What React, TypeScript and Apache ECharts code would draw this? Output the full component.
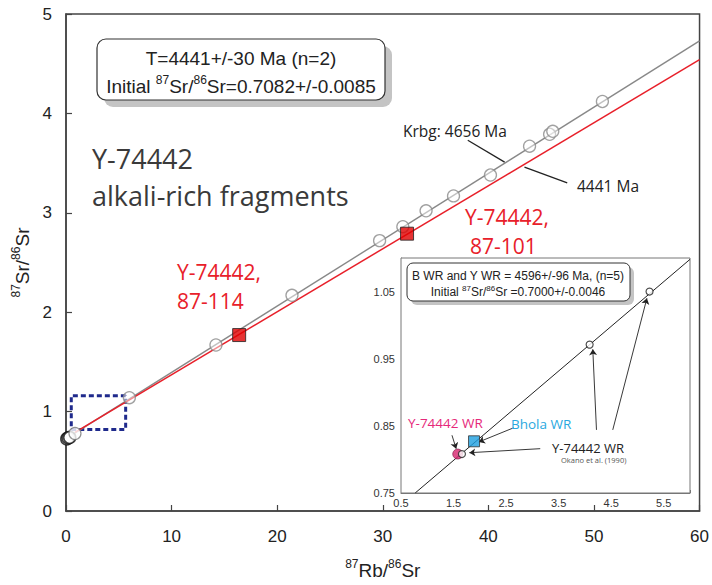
import React, { useEffect, useRef } from "react";
import * as echarts from "echarts";

// ---- main plot data (87Rb/86Sr, 87Sr/86Sr) ----
const krbgCircles: number[][] = [
  [6.0, 1.14], [14.2, 1.67], [21.4, 2.17], [29.7, 2.72], [31.9, 2.86],
  [34.1, 3.02], [36.7, 3.17], [40.2, 3.38], [43.9, 3.67], [45.8, 3.79],
  [46.1, 3.82], [50.8, 4.12],
];
const originCircles: number[][] = [[0.08, 0.725], [0.2, 0.735], [0.35, 0.74]];
const lowCircle: number[][] = [[0.85, 0.78]];
const redSquares: number[][] = [[16.4, 1.77], [32.3, 2.79]];
const krbgLine: number[][] = [[0.2, 0.74], [60, 4.73]];
const isochronLine: number[][] = [[0.85, 0.79], [60, 4.54]];
const zoomBox: number[][] = [[0.5, 0.82], [5.65, 0.82], [5.65, 1.16], [0.5, 1.16], [0.5, 0.82]];
const leaderLines: number[][][] = [
  [[38.05, 3.73], [41.54, 3.51]],
  [[43.42, 3.46], [47.47, 3.3]],
];
const xTicks = [0, 10, 20, 30, 40, 50, 60];
const yTicks = [0, 1, 2, 3, 4, 5];

// ---- inset data ----
const insetLine: number[][] = [[0.77, 0.75], [6.0, 1.098]];
const insetOpen: number[][] = [[4.09, 0.971], [5.23, 1.05], [1.66, 0.808]];
const insetY74442: number[][] = [[1.58, 0.808]];
const insetBhola: number[][] = [[1.89, 0.827]];
const insetArrows: number[][][] = [
  [[1.47, 0.836], [1.55, 0.816]],
  [[2.64, 0.847], [1.98, 0.826]],
  [[3.15, 0.816], [1.8, 0.81]],
  [[4.22, 0.844], [4.15, 0.964]],
  [[4.53, 0.844], [5.18, 1.04]],
];

const AR = "'Liberation Sans', Arial, sans-serif";
const MY = "'Open Sans', 'Noto Sans', sans-serif";

const supRich = (size: number, supSize: number, lh: number, color = "#222") => ({
  n: { fontSize: size, fontFamily: AR, color, fill: color, lineHeight: lh, verticalAlign: "bottom" },
  s: { fontSize: supSize, fontFamily: AR, color, fill: color, lineHeight: supSize + 1, verticalAlign: "top" },
});

export default function App() {
  const ref = useRef<HTMLDivElement>(null);
  useEffect(() => {
    if (!ref.current) return;
    const chart = echarts.init(ref.current, null, { renderer: "svg" });
    const axisLineStyle = { color: "#444", width: 1.5 };
    const RED = "#e8202a";
    const redText = (x: number, y: number, t: string) => ({
      type: "text", x, y, z: 12, style: { text: t, font: `21px ${MY}`, fill: RED, verticalAlign: "middle" },
    });
    const option: any = {
      animation: false,
      backgroundColor: "#fff",
      grid: [
        { left: 66, top: 14, width: 637, height: 500, show: true, borderColor: "#444", borderWidth: 1.5, backgroundColor: "transparent" },
        { left: 401, top: 258, width: 289, height: 235, show: true, borderColor: "#777", borderWidth: 1, backgroundColor: "#fff", z: 5 },
      ],
      xAxis: [
        {
          gridIndex: 0, type: "value", min: xTicks[0], max: xTicks[xTicks.length - 1], interval: 10,
          axisLine: { lineStyle: axisLineStyle },
          axisTick: { inside: true, length: 6, lineStyle: { color: "#444", width: 1.2 } },
          axisLabel: { fontSize: 17, color: "#222", fontFamily: AR, margin: 17 },
          splitLine: { show: false },
          name: "{s|87}{n|Rb/}{s|86}{n|Sr}", nameLocation: "middle", nameGap: 47,
          nameTextStyle: { rich: supRich(19, 12, 22) },
        },
        {
          gridIndex: 1, type: "value", min: 0.5, max: 6, interval: 0.5,
          axisLine: { lineStyle: { color: "#777", width: 1 } },
          axisTick: { inside: true, length: 3, lineStyle: { color: "#777" } },
          axisLabel: {
            fontSize: 11, color: "#333", fontFamily: AR, margin: 4,
            formatter: (v: number) => (Math.round(v * 10) % 10 === 5 ? v.toFixed(1) : ""),
          },
          splitLine: { show: false },
        },
      ],
      yAxis: [
        {
          gridIndex: 0, type: "value", min: yTicks[0], max: yTicks[yTicks.length - 1], interval: 1,
          axisLine: { lineStyle: axisLineStyle },
          axisTick: { inside: true, length: 6, lineStyle: { color: "#444", width: 1.2 } },
          axisLabel: { fontSize: 17, color: "#222", fontFamily: AR, margin: 14 },
          splitLine: { show: false },
          name: "{s|87}{n|Sr/}{s|86}{n|Sr}", nameLocation: "middle", nameGap: 20, nameRotate: 90,
          nameTextStyle: { rich: supRich(19, 12, 22) },
        },
        {
          gridIndex: 1, type: "value", min: 0.75, max: 1.1, interval: 0.05,
          axisLine: { lineStyle: { color: "#777", width: 1 } },
          axisTick: { inside: true, length: 3, lineStyle: { color: "#777" } },
          axisLabel: {
            fontSize: 11, color: "#333", fontFamily: AR, margin: 6,
            formatter: (v: number) => (Math.round(v * 100) % 10 === 5 ? v.toFixed(2) : ""),
          },
          splitLine: { show: false },
        },
      ],
      series: [
        { type: "line", data: zoomBox, symbol: "none", lineStyle: { color: "#1f2a8c", width: 3, type: [5, 3] }, z: 2 },
        { type: "line", data: krbgLine, symbol: "none", lineStyle: { color: "#888", width: 1.4 }, z: 2 },
        { type: "line", data: isochronLine, symbol: "none", lineStyle: { color: RED, width: 1.5 }, z: 3 },
        { type: "scatter", data: originCircles, symbol: "circle", symbolSize: 12, itemStyle: { color: "#fff", borderColor: "#111", borderWidth: 1.6 }, z: 4 },
        { type: "scatter", data: lowCircle, symbol: "circle", symbolSize: 12, itemStyle: { color: "#fff", borderColor: "#777", borderWidth: 1.2 }, z: 4 },
        { type: "scatter", data: krbgCircles, symbol: "circle", symbolSize: 12, itemStyle: { color: "rgba(255,255,255,0.6)", borderColor: "#8a8a8a", borderWidth: 1.3 }, z: 4 },
        { type: "scatter", data: redSquares, symbol: "rect", symbolSize: 13, itemStyle: { color: "#e00000", borderColor: "#222", borderWidth: 1 }, z: 5 },
        {
          type: "lines", coordinateSystem: "cartesian2d", xAxisIndex: 0, yAxisIndex: 0,
          data: leaderLines.map((c) => ({ coords: c })), symbol: "none",
          lineStyle: { color: "#222", width: 1.3, opacity: 1 }, z: 5,
        },
        // inset
        { type: "line", xAxisIndex: 1, yAxisIndex: 1, data: insetLine, symbol: "none", lineStyle: { color: "#222", width: 1 }, z: 6 },
        { type: "scatter", xAxisIndex: 1, yAxisIndex: 1, data: insetY74442, symbol: "circle", symbolSize: 10, itemStyle: { color: "#d6246e", borderColor: "#7a1040", borderWidth: 0.8 }, z: 7 },
        { type: "scatter", xAxisIndex: 1, yAxisIndex: 1, data: insetOpen, symbol: "circle", symbolSize: 7, itemStyle: { color: "#fff", borderColor: "#222", borderWidth: 1.2 }, z: 8 },
        { type: "scatter", xAxisIndex: 1, yAxisIndex: 1, data: insetBhola, symbol: "rect", symbolSize: 11, itemStyle: { color: "#1d9fe0", borderColor: "#333", borderWidth: 1 }, z: 8 },
        {
          type: "lines", coordinateSystem: "cartesian2d", xAxisIndex: 1, yAxisIndex: 1,
          data: insetArrows.map((c) => ({ coords: c })), symbol: ["none", "arrow"], symbolSize: 6,
          lineStyle: { color: "#222", width: 0.9, opacity: 1 }, z: 8,
        },
      ],
      graphic: [
        // main age box
        { type: "rect", shape: { x: 104, y: 46, width: 288, height: 61, r: 9 }, style: { fill: "#c4c4c4" }, z: 10 },
        { type: "rect", shape: { x: 97, y: 39, width: 288, height: 61, r: 9 }, style: { fill: "#fff", stroke: "#333", lineWidth: 1.2 }, z: 11 },
        { type: "text", x: 241, y: 58, z: 12, style: { text: "T=4441+/-30 Ma (n=2)", font: `19px ${AR}`, fill: "#222", align: "center", verticalAlign: "middle" } },
        {
          type: "text", x: 241, y: 85, z: 12,
          style: {
            text: "{n|Initial }{s|87}{n|Sr/}{s|86}{n|Sr=0.7082+/-0.0085}", align: "center", verticalAlign: "middle",
            rich: supRich(19, 12, 22),
          },
        },
        // sample title
        { type: "text", x: 92, y: 158, z: 12, style: { text: "Y-74442", font: `27px ${MY}`, fill: "#3a3a3a", verticalAlign: "middle" } },
        { type: "text", x: 92, y: 195, z: 12, style: { text: "alkali-rich fragments", font: `27px ${MY}`, fill: "#3a3a3a", verticalAlign: "middle" } },
        // line labels
        { type: "text", x: 403, y: 131, z: 12, style: { text: "Krbg: 4656 Ma", font: `15.5px ${MY}`, fill: "#222", verticalAlign: "middle" } },
        { type: "text", x: 577, y: 186, z: 12, style: { text: "4441 Ma", font: `15.5px ${MY}`, fill: "#222", verticalAlign: "middle" } },
        // red labels
        redText(465, 216.5, "Y-74442,"),
        redText(470, 245.5, "87-101"),
        redText(177, 271.5, "Y-74442,"),
        redText(177, 300.5, "87-114"),
        // inset box
        { type: "rect", shape: { x: 411, y: 267, width: 223, height: 38, r: 6 }, style: { fill: "#c4c4c4" }, z: 20 },
        { type: "rect", shape: { x: 407, y: 263, width: 223, height: 38, r: 6 }, style: { fill: "#fff", stroke: "#333", lineWidth: 1 }, z: 21 },
        { type: "text", x: 518, y: 276, z: 22, style: { text: "B WR and Y WR = 4596+/-96 Ma, (n=5)", font: `12px ${AR}`, fill: "#222", align: "center", verticalAlign: "middle" } },
        {
          type: "text", x: 518, y: 291, z: 22,
          style: {
            text: "{n|Initial }{s|87}{n|Sr/}{s|86}{n|Sr =0.7000+/-0.0046}", align: "center", verticalAlign: "middle",
            rich: supRich(12, 8, 14),
          },
        },
        // inset labels
        { type: "text", x: 408, y: 423, z: 22, style: { text: "Y-74442 WR", font: `13.5px ${MY}`, fill: "#e6287a", verticalAlign: "middle" } },
        { type: "text", x: 511, y: 424, z: 22, style: { text: "Bhola WR", font: `13.5px ${MY}`, fill: "#29a8e0", verticalAlign: "middle" } },
        {
          type: "text", x: 552, y: 452, z: 22,
          style: {
            text: "{a|Y-74442 WR}\n{b|Okano et al. (1990)}", verticalAlign: "middle", fill: "#222",
            rich: {
              a: { fontSize: 13, fontFamily: MY, fill: "#222", color: "#222", lineHeight: 16 },
              b: { fontSize: 7.5, fontFamily: MY, fill: "#555", color: "#555", lineHeight: 9, padding: [0, 0, 0, 9] },
            },
          },
        },
      ],
    };
    chart.setOption(option);
    return () => chart.dispose();
  }, []);
  return <div ref={ref} style={{ position: "fixed", left: 0, top: 0, width: 712, height: 585 }} />;
}
